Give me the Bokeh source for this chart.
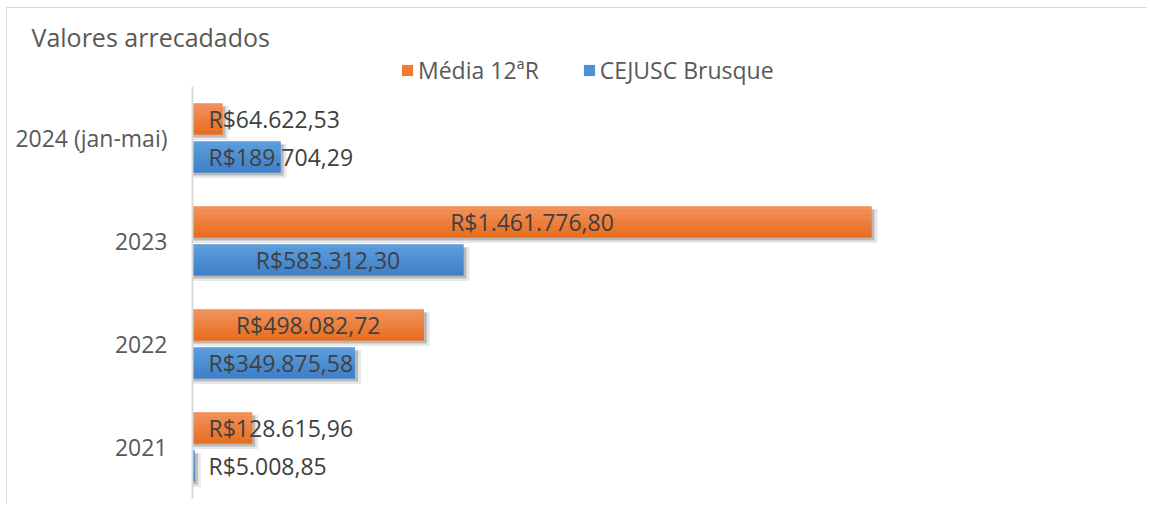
from bokeh.plotting import figure
from bokeh.models import Range1d, Legend, LegendItem, ColumnDataSource, FixedTicker
from bokeh.transform import dodge
from bokeh.embed import file_html
from bokeh.resources import INLINE
from bokeh.core.properties import value

# ---- data ----
categories = ["2021", "2022", "2023", "2024 (jan-mai)"]
media_12r = [128615.96, 498082.72, 1461776.80, 64622.53]
cejusc_brusque = [5008.85, 349875.58, 583312.30, 189704.29]
series_names = ["Média 12ªR", "CEJUSC Brusque"]
title_text = "Valores arrecadados"


def brl(v):
    s = f"{v:,.2f}"
    s = s.replace(",", "X").replace(".", ",").replace("X", ".")
    return "R$" + s


# ---- layout ----
W, H = 1141, 497
FL, FT, FR, FB = 185, 45, 2, 7
frame_w = W - FL - FR
frame_h = H - FT - FB
X_MAX = 2_053_800
px_per_unit = frame_w / X_MAX
ncat = len(categories)
TOP_PAD = 33 / 103          # room for the legend above the category bands
Y_LO, Y_HI = -0.5, ncat - 0.5 + TOP_PAD
px_per_cat = frame_h / (Y_HI - Y_LO)

FONT = "Open Sans"
FS = "23px"

p = figure(width=W, height=H,
           y_range=Range1d(Y_LO, Y_HI),
           x_range=Range1d(0, X_MAX),
           output_backend="svg", toolbar_location=None,
           min_border_left=FL, min_border_top=FT,
           min_border_right=FR, min_border_bottom=FB,
           title=title_text)
p.styles = {"margin-left": "6px", "margin-top": "7px",
            "border-top": "1px solid #D9D9D9", "border-left": "1px solid #D9D9D9"}

p.title.text_font = FONT
p.title.text_font_size = "25px"
p.title.text_font_style = "normal"
p.title.text_color = "#595959"
p.title.align = "left"
p.title.offset = -(192 - 31)
p.title.standoff = 0

p.outline_line_color = None
p.xgrid.grid_line_color = None
p.ygrid.grid_line_color = None
p.xaxis.visible = False
yi = list(range(ncat))
p.yaxis.ticker = FixedTicker(ticks=yi)
p.yaxis.major_label_overrides = {i: c for i, c in zip(yi, categories)}
p.yaxis.bounds = (-0.5, ncat - 0.5)
p.yaxis.major_tick_line_color = None
p.yaxis.minor_tick_line_color = None
p.yaxis.axis_line_color = "#D9D9D9"
p.yaxis.axis_line_width = 2
p.yaxis.major_label_text_font = FONT
p.yaxis.major_label_text_font_size = FS
p.yaxis.major_label_text_color = "#595959"
p.yaxis.major_label_standoff = 19

BAR_H = 0.30


def lerp(c1, c2, t):
    a = [int(c1[i:i + 2], 16) for i in (1, 3, 5)]
    b = [int(c2[i:i + 2], 16) for i in (1, 3, 5)]
    return "#%02x%02x%02x" % tuple(round(a[k] + (b[k] - a[k]) * t) for k in range(3))


series = [
    (media_12r, 0.185, "#ED7D31", "#F29460", "#E86C1C"),
    (cejusc_brusque, -0.185, "#4F8FD6", "#5E9FDD", "#3D7EC8"),
]

main_renderers = []
for vals, off, mid, top, bot in series:
    src = ColumnDataSource(dict(
        yi=yi, val=vals,
        sh1=[v + 3 / px_per_unit for v in vals],
        sh2=[v + 6 / px_per_unit for v in vals],
    ))
    # soft drop shadow
    p.hbar(y=dodge("yi", off - 4 / px_per_cat), left=0, right="sh2",
           height=BAR_H + 3 / px_per_cat, source=src, fill_color="black",
           fill_alpha=0.09, line_color=None)
    p.hbar(y=dodge("yi", off - 3 / px_per_cat), left=0, right="sh1",
           height=BAR_H, source=src, fill_color="black", fill_alpha=0.2, line_color=None)
    r = p.hbar(y=dodge("yi", off), left=0, right="val",
               height=BAR_H, source=src, fill_color=mid, line_color=None)
    main_renderers.append(r)
    n = 8
    for i in range(n):
        t = (i + 0.5) / n
        col = lerp(top, bot, t)
        cy = off + BAR_H / 2 - (i + 0.5) * BAR_H / n
        p.hbar(y=dodge("yi", cy), left=0, right="val",
               height=BAR_H / n + 0.002, source=src, fill_color=col, line_color=None)

# ---- data labels ----
for vals, off, *_ in series:
    xs, offs, aligns, texts = [], [], [], []
    for v in vals:
        bar_px = v * px_per_unit
        texts.append(brl(v))
        if bar_px > 190:
            xs.append(v / 2)
            offs.append(0)
            aligns.append("center")
        else:
            xs.append(0)
            offs.append(16)
            aligns.append("left")
    lsrc = ColumnDataSource(dict(yi=yi, x=xs, xo=offs, al=aligns, t=texts))
    p.text(x="x", y=dodge("yi", off), text="t", x_offset="xo",
           text_align="al", text_baseline="middle", source=lsrc,
           text_font=value(FONT), text_font_size=value(FS), text_color="#404040")

legend = Legend(items=[LegendItem(label=series_names[0], renderers=[main_renderers[0]]),
                       LegendItem(label=series_names[1], renderers=[main_renderers[1]])],
                orientation="horizontal", location=(208, frame_h - 33),
                label_text_font=FONT, label_text_font_size=FS,
                label_text_color="#595959", glyph_width=14, glyph_height=14,
                label_standoff=4, spacing=43, padding=0, margin=0,
                border_line_color=None, background_fill_alpha=0)
p.add_layout(legend)

open("out.html", "w").write(file_html(p, INLINE))
